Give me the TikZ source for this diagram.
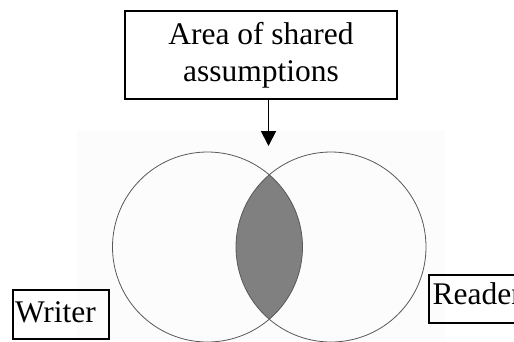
\documentclass[tikz,border=0pt]{standalone}
\usepackage{fontspec}
\setmainfont{Liberation Serif}
\usetikzlibrary{arrows.meta}
\begin{document}
\begin{tikzpicture}[x=1pt,y=-1pt,
  labelbox/.style={draw=black, line width=1.8pt, inner sep=0pt,
    font=\fontsize{31.5}{37}\selectfont},
  ring/.style={draw=black!65, line width=0.8pt},
  pointer/.style={line width=1.8pt, -{Triangle[width=15pt,length=15pt]}}]
\useasboundingbox (0,0) rectangle (514,341);
\clip (0,0) rectangle (514,341);
% faint backdrop
\fill[white!99!black] (77,130) rectangle (445,341);
% shared area
\begin{scope}
  \clip (207.5,247) circle (95pt);
  \fill[black!50] (331,247) circle (95pt);
\end{scope}
\draw[ring] (207.5,247) circle (95pt);
\draw[ring] (331,247) circle (95pt);
% title box
\node[labelbox, align=center, minimum width=272pt, minimum height=88.3pt] (area) at (261,54.85)
  {Area of shared\\assumptions};
\coordinate (tip) at (268.5,146);
\draw[pointer] (area.south -| tip) -- (tip);
% Writer
\node[labelbox, text width=91.7pt, inner xsep=2.3pt, align=left,
  minimum height=49.3pt, text height=21pt, text depth=5pt] (writer) at (60.85,314.65) {Writer};
% Reader
\node[labelbox, text width=110pt, inner xsep=3.4pt, align=left, anchor=west,
  minimum height=48pt, text height=21pt, text depth=10.4pt] (reader) at (428.3,299) {Reader};
\end{tikzpicture}
\end{document}
